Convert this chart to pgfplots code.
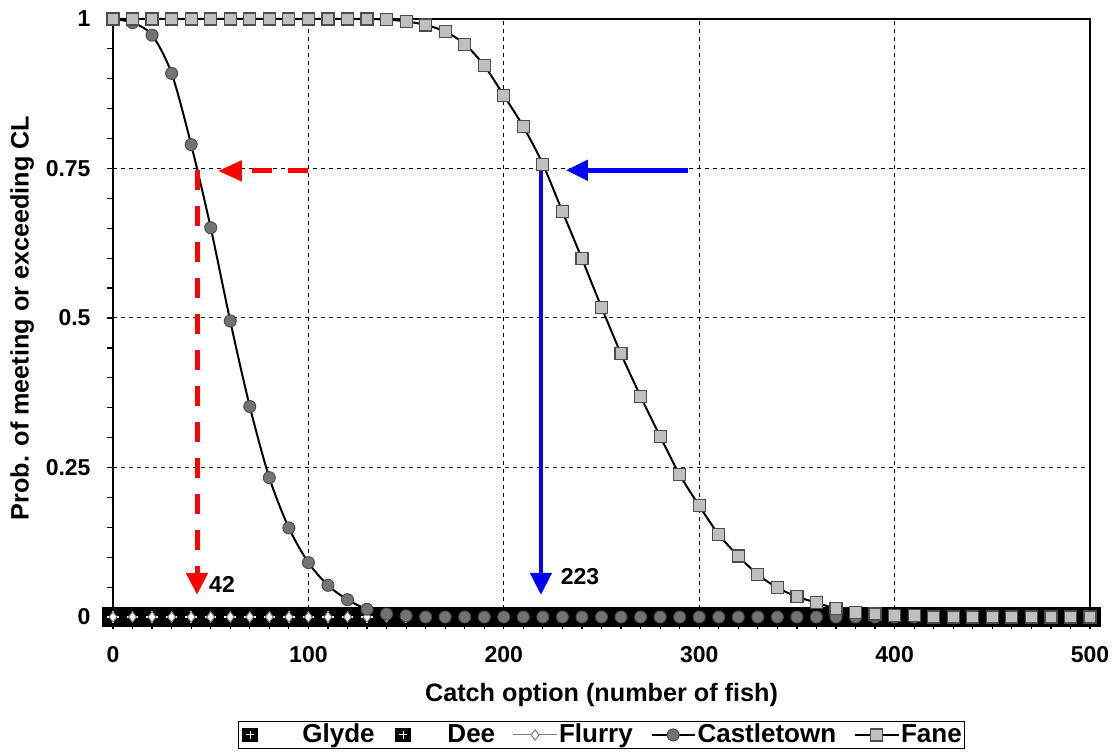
\documentclass[border=0pt]{standalone}
\usepackage{fontspec}
\setmainfont{Liberation Sans}
\usepackage{pgfplots}
\pgfplotsset{compat=1.18}
\usepackage{pgfplotstable}
\usetikzlibrary{arrows.meta}

\newcommand\cf{\fontsize{11.5}{13}\selectfont\bfseries}
\newcommand\lf{\fontsize{12.6}{14}\selectfont\bfseries}
\newcommand\gf{\fontsize{13}{15}\selectfont\bfseries}

% black box with a white plus, as in the Excel chart (a bit wider than tall)
\pgfdeclareplotmark{sqplus}{%
  \pgfpathrectangle{\pgfqpoint{-1.1\pgfplotmarksize}{-\pgfplotmarksize}}{\pgfqpoint{2.2\pgfplotmarksize}{2\pgfplotmarksize}}%
  \pgfsetfillcolor{black}\pgfusepathqfill
  \pgfsetstrokecolor{white}\pgfsetlinewidth{0.14\pgfplotmarksize}%
  \pgfpathmoveto{\pgfqpoint{-0.6\pgfplotmarksize}{0pt}}\pgfpathlineto{\pgfqpoint{0.6\pgfplotmarksize}{0pt}}%
  \pgfpathmoveto{\pgfqpoint{0pt}{-0.6\pgfplotmarksize}}\pgfpathlineto{\pgfqpoint{0pt}{0.6\pgfplotmarksize}}%
  \pgfusepathqstroke
}

\pgfplotstableread{
x glyde dee flurry castle fane
0 0 0 0 1.000 1.000
10 0 0 0 0.994 1.000
20 0 0 0 0.973 1.000
30 0 0 0 0.909 1.000
40 0 0 0 0.790 1.000
50 0 0 0 0.651 1.000
60 0 0 0 0.495 1.000
70 0 0 0 0.352 1.000
80 0 0 0 0.233 1.000
90 0 0 0 0.149 1.000
100 0 0 0 0.091 1.000
110 0 0 0 0.053 1.000
120 0 0 0 0.029 1.000
130 0 0 0 0.013 1.000
140 0 0 0 0.005 0.999
150 0 0 0 0.002 0.996
160 0 0 0 0 0.990
170 0 0 0 0 0.979
180 0 0 0 0 0.958
190 0 0 0 0 0.922
200 0 0 0 0 0.872
210 0 0 0 0 0.820
220 0 0 0 0 0.757
230 0 0 0 0 0.678
240 0 0 0 0 0.599
250 0 0 0 0 0.518
260 0 0 0 0 0.440
270 0 0 0 0 0.369
280 0 0 0 0 0.302
290 0 0 0 0 0.238
300 0 0 0 0 0.186
310 0 0 0 0 0.138
320 0 0 0 0 0.102
330 0 0 0 0 0.071
340 0 0 0 0 0.049
350 0 0 0 0 0.034
360 0 0 0 0 0.024
370 0 0 0 0 0.014
380 0 0 0 0 0.008
390 0 0 0 0 0.005
400 0 0 0 0 0.003
410 0 0 0 0 0.002
420 0 0 0 0 0
430 0 0 0 0 0
440 0 0 0 0 0
450 0 0 0 0 0
460 0 0 0 0 0
470 0 0 0 0 0
480 0 0 0 0 0
490 0 0 0 0 0
500 0 0 0 0 0
}\catch

\begin{document}
\begin{tikzpicture}
\begin{axis}[
  name=ax,
  scale only axis, width=488.5pt, height=299pt,
  xmin=0, xmax=500, ymin=0, ymax=1,
  clip=false,
  axis line style={line width=1pt},
  xtick={0,100,...,500}, ytick={0,0.25,0.5,0.75,1},
  minor x tick num=9, minor y tick num=4,
  tick pos=left, tick align=outside,
  major tick length=3pt, minor tick length=3pt,
  xtick style={/pgfplots/major tick length=6pt, /pgfplots/minor tick length=6pt},
  every tick/.style={black, line width=0.6pt},
  grid=major, major grid style={black, line width=0.5pt, dash pattern=on 2pt off 2pt},
  /pgf/number format/assume math mode=true,
  tick label style={font=\cf},
  xticklabel style={yshift=-8pt},
  yticklabel style={xshift=-4.7pt},
  xlabel={Catch option (number of fish)},
  ylabel={Prob. of meeting or exceeding CL},
  label style={font=\lf},
  xlabel style={at={(axis description cs:0.5,-0.13)}, anchor=center},
  ylabel style={at={(axis description cs:-0.093,0.5)}, anchor=center},
  legend columns=-1,
  legend image code/.code={\draw[mark repeat=2,mark phase=2,#1] plot coordinates {(0cm,0cm) (0.38cm,0cm) (0.76cm,0cm)};},
  legend style={at={(axis description cs:0.5,-0.1733)}, anchor=north, font=\gf,
    draw=black, line width=0.6pt, inner sep=0.5pt, nodes={inner sep=0.9pt},
    /tikz/every even column/.append style={column sep=8pt}},
]
\addplot[only marks, mark=sqplus, mark size=4.8pt,
  legend image code/.code={\path[mark=sqplus, mark size=3.5pt] plot coordinates {(0cm,0cm)}; \path (-5pt,0pt) (25pt,0pt);}]
  table[x=x, y=glyde] {\catch};
\addlegendentry{Glyde}
\addplot[only marks, mark=sqplus, mark size=4.8pt,
  legend image code/.code={\path[mark=sqplus, mark size=3.5pt] plot coordinates {(0cm,0cm)}; \path (-5pt,0pt) (21pt,0pt);}]
  table[x=x, y=dee] {\catch};
\addlegendentry{Dee}
\addplot[color=gray, line width=0.5pt, mark=diamond*, mark size=2.6pt,
  mark options={fill=white, draw=gray, line width=0.5pt}]
  table[x=x, y=flurry] {\catch};
\addlegendentry{Flurry}
\addplot[black, line width=1pt, smooth, tension=0.5, mark=*, mark size=3pt,
  mark options={fill=black!55, draw=black!70, line width=0.5pt}]
  table[x=x, y=castle] {\catch};
\addlegendentry{Castletown}
\addplot[black, line width=1pt, smooth, tension=0.5, mark=square*, mark size=3pt,
  mark options={fill=black!25, draw=black!70, line width=0.6pt}]
  table[x=x, y=fane] {\catch};
\addlegendentry{Fane}

% read-off arrows
\draw[red, line width=2.5pt, dash pattern=on 10pt off 8pt, -{Triangle[length=12pt,width=10pt]}]
  (axis cs:100,0.746) -- (axis cs:53.7,0.746);
\draw[red, line width=2.5pt, dash pattern=on 10pt off 8pt, -{Triangle[length=11pt,width=10.5pt]}]
  (axis cs:43,0.748) -- (axis cs:43,0.037);
\draw[blue, line width=2.5pt, -{Triangle[length=11pt,width=10pt]}]
  (axis cs:294.3,0.747) -- (axis cs:231.8,0.747);
\draw[blue, line width=2.2pt, -{Triangle[length=11pt,width=10.5pt]}]
  (axis cs:219,0.752) -- (axis cs:219,0.037);
\node[font=\cf] at (axis cs:55.8,0.054) {42};
\node[font=\cf] at (axis cs:239,0.067) {223};
\end{axis}
\pgfresetboundingbox
\path ([shift={(-56.5pt,-68.5pt)}]ax.south west) rectangle ([shift={(12pt,9.5pt)}]ax.north east);
\end{tikzpicture}
\end{document}
